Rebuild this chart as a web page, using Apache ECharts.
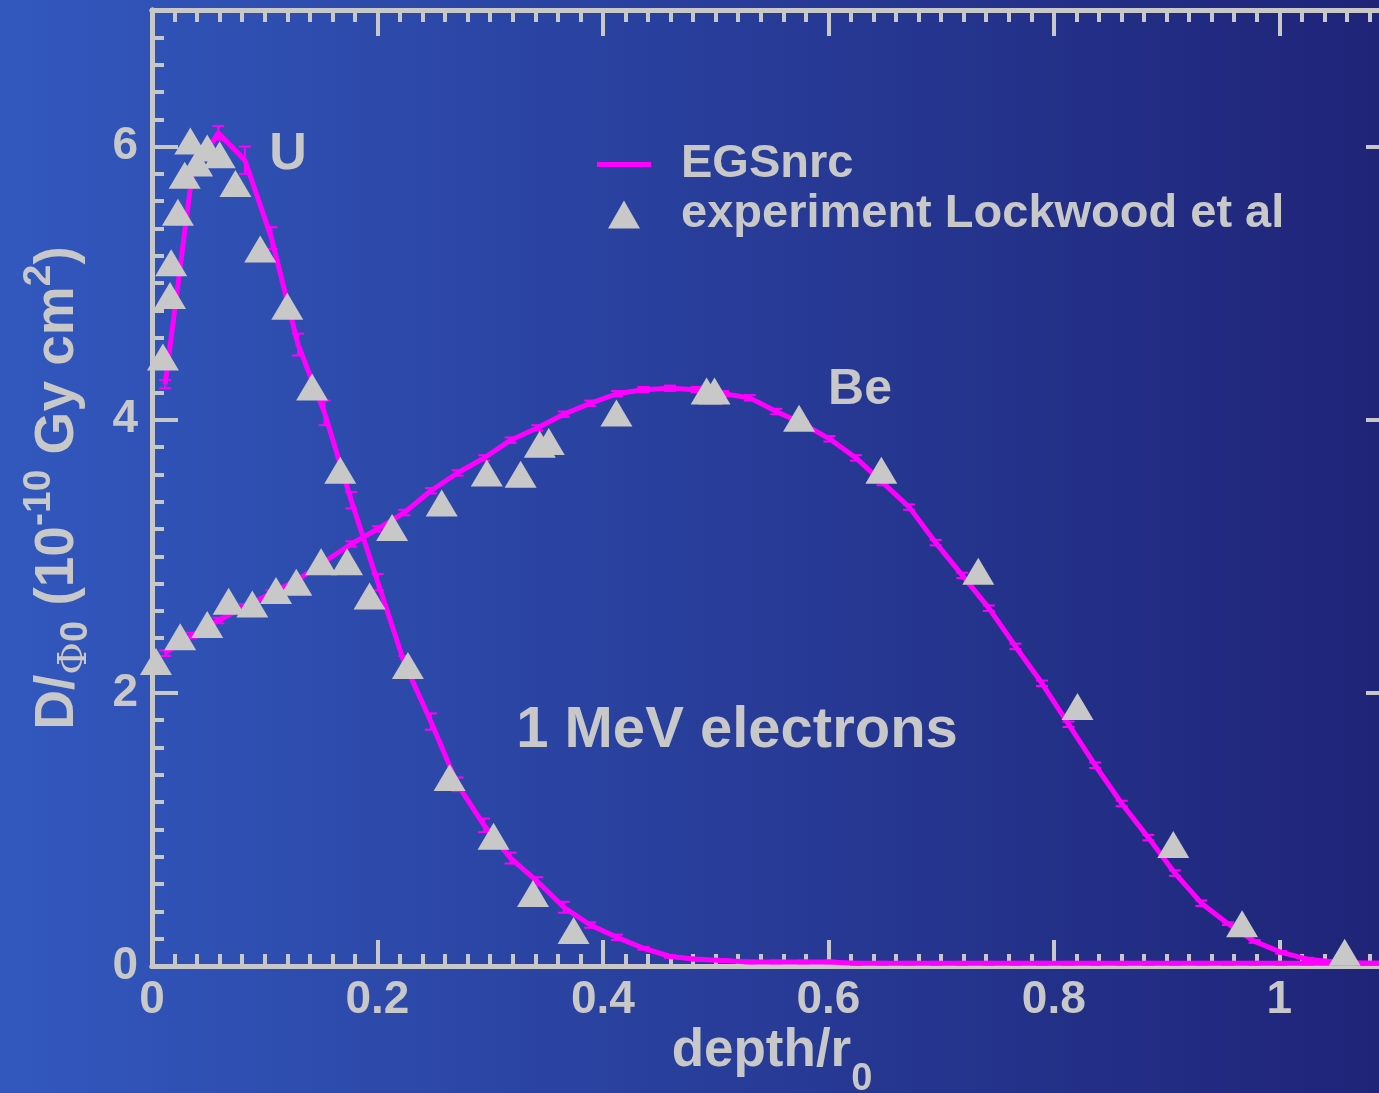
<!DOCTYPE html>
<html>
<head>
<meta charset="utf-8">
<title>Depth dose, 1 MeV electrons</title>
<script src="https://cdn.jsdelivr.net/npm/echarts@6/dist/echarts.min.js"></script>
<style>
  html, body { margin: 0; padding: 0; }
  #main { width: 1379px; height: 1093px; }
</style>
</head>
<body>
<div id="main"></div>
<script>
// EGSnrc depth bins (depth / r0)
const depth = [
    0.0117, 0.0353, 0.0588, 0.0824, 0.1060, 0.1296, 0.1531, 0.1767, 0.2003, 0.2238,
    0.2474, 0.2710, 0.2946, 0.3181, 0.3417, 0.3653, 0.3888, 0.4124, 0.4360, 0.4595,
    0.4831, 0.5067, 0.5303, 0.5538, 0.5774, 0.6010, 0.6245, 0.6481, 0.6717, 0.6952,
    0.7188, 0.7424, 0.7660, 0.7895, 0.8131, 0.8367, 0.8602, 0.8838, 0.9074, 0.9309,
    0.9545, 0.9781, 1.0017, 1.0252, 1.0488, 1.0724, 1.0959
];
// EGSnrc dose, uranium
const doseU = [
    4.26, 5.78, 6.10, 5.90, 5.33, 4.55, 4.05, 3.41, 2.81, 2.22,
    1.79, 1.33, 1.03, 0.79, 0.62, 0.43, 0.30, 0.21, 0.13, 0.07,
    0.05, 0.04, 0.03, 0.03, 0.03, 0.03, 0.02, 0.02, 0.02, 0.02,
    0.02, 0.02, 0.02, 0.02, 0.02, 0.02, 0.02, 0.02, 0.02, 0.02,
    0.02, 0.02, 0.02, 0.02, 0.02, 0.02, 0.02
];
const errU = [
    0.03, 0.05, 0.05, 0.10, 0.08, 0.08, 0.09, 0.06, 0.06, 0.05,
    0.06, 0.05, 0.05, 0.04, 0.03, 0.04, 0.02, 0.02, 0.01, 0.01,
    0.01, 0.01, 0.01, 0.01, 0.01, 0.01, 0.01, 0.01, 0.01, 0.01,
    0.01, 0.01, 0.01, 0.01, 0.01, 0.01, 0.01, 0.01, 0.01, 0.01,
    0.01, 0.01, 0.01, 0.01, 0.01, 0.01, 0.01
];
// EGSnrc dose, beryllium
const doseBe = [
    2.29, 2.42, 2.53, 2.63, 2.73, 2.83, 2.96, 3.09, 3.20, 3.32,
    3.48, 3.61, 3.72, 3.85, 3.94, 4.04, 4.12, 4.19, 4.22, 4.23,
    4.22, 4.19, 4.16, 4.06, 3.97, 3.86, 3.72, 3.54, 3.36, 3.10,
    2.86, 2.62, 2.34, 2.07, 1.77, 1.47, 1.19, 0.94, 0.68, 0.46,
    0.31, 0.18, 0.10, 0.05, 0.03, 0.02, 0.02
];
const errBe = [
    0.02, 0.02, 0.02, 0.02, 0.02, 0.02, 0.02, 0.02, 0.02, 0.02,
    0.02, 0.02, 0.02, 0.02, 0.02, 0.02, 0.02, 0.02, 0.02, 0.02,
    0.02, 0.02, 0.02, 0.02, 0.02, 0.02, 0.02, 0.02, 0.02, 0.02,
    0.02, 0.02, 0.02, 0.02, 0.02, 0.02, 0.02, 0.02, 0.02, 0.02,
    0.01, 0.01, 0.01, 0.01, 0.01, 0.01, 0.01
];

// experiment, Lockwood et al
const expUDepth = [0.0097, 0.016, 0.017, 0.023, 0.029, 0.034, 0.040, 0.049, 0.060, 0.074,
    0.096, 0.120, 0.142, 0.167, 0.193, 0.227, 0.264, 0.303, 0.338, 0.374];
const expUDose = [4.46, 4.91, 5.15, 5.52, 5.79, 6.04, 5.88, 5.99, 5.94, 5.73,
    5.25, 4.83, 4.24, 3.63, 2.71, 2.20, 1.38, 0.95, 0.53, 0.26];
const expBeDepth = [0.0035, 0.025, 0.049, 0.068, 0.089, 0.110, 0.128, 0.150, 0.173, 0.213,
    0.257, 0.297, 0.327, 0.344, 0.352, 0.412, 0.492, 0.499, 0.574, 0.647,
    0.733, 0.821, 0.906, 0.967, 1.058];
const expBeDose = [2.23, 2.41, 2.50, 2.67, 2.65, 2.75, 2.81, 2.96, 2.96, 3.21,
    3.39, 3.61, 3.60, 3.82, 3.84, 4.05, 4.21, 4.21, 4.01, 3.63,
    2.89, 1.90, 0.89, 0.31, 0.10];

const GREY = '#c8c8c8';
const MAGENTA = '#ff00ff';
const FONT = 'Liberation Sans';

const chart = echarts.init(document.getElementById('main'), null, { renderer: 'canvas' });

function pairs(xs, ys) {
    return xs.map(function (x, i) { return [x, ys[i]]; });
}

function errorBar(params, api) {
    const x = api.value(0);
    const y = api.value(1);
    const e = api.value(2);
    const hi = api.coord([x, y + e]);
    const lo = api.coord([x, y - e]);
    const st = { stroke: MAGENTA, lineWidth: 2 };
    return {
        type: 'group',
        children: [
            { type: 'line', shape: { x1: hi[0], y1: hi[1], x2: lo[0], y2: lo[1] }, style: st },
            { type: 'line', shape: { x1: hi[0] - 6, y1: hi[1], x2: hi[0] + 6, y2: hi[1] }, style: st },
            { type: 'line', shape: { x1: lo[0] - 6, y1: lo[1], x2: lo[0] + 6, y2: lo[1] }, style: st }
        ]
    };
}

// frame axes: every side gets a short-tick axis and a long-tick axis
function frameAxis(position, min, max, interval, tickLen, extra) {
    return Object.assign({
        type: 'value',
        position: position,
        min: min,
        max: max,
        interval: interval,
        axisLine: { show: true, onZero: false, lineStyle: { color: GREY, width: 5 } },
        axisTick: { show: true, inside: true, length: tickLen, lineStyle: { color: GREY, width: 4 } },
        axisLabel: { show: false },
        splitLine: { show: false }
    }, extra || {});
}

const labelStyle = {
    show: true,
    color: GREY,
    fontFamily: FONT,
    fontWeight: 'bold',
    fontSize: 46,
    showMaxLabel: false
};

var option = {
    backgroundColor: {
        type: 'linear', x: 0, y: 0, x2: 1, y2: 0,
        colorStops: [
            { offset: 0, color: '#3258be' },
            { offset: 1, color: '#1f2478' }
        ]
    },
    animation: false,
    textStyle: { fontFamily: FONT },
    grid: {
        left: 152,
        right: -13,
        top: 10,
        bottom: 127,
        containLabel: false,
        outerBoundsMode: 'none'
    },
    legend: {
        orient: 'vertical',
        left: 592,
        top: 136,
        itemWidth: 54,
        itemHeight: 28,
        itemGap: 3,
        selectedMode: false,
        symbolKeepAspect: true,
        data: [
            { name: 'EGSnrc', icon: 'path://M0,0 L54,0 L54,5 L0,5 Z', itemStyle: { color: MAGENTA, opacity: 1 } },
            { name: 'experiment Lockwood et al', icon: 'path://M16,0 L32,28 L0,28 Z', itemStyle: { color: GREY, opacity: 1 } }
        ],
        textStyle: {
            color: GREY,
            fontFamily: FONT,
            fontWeight: 'bold',
            fontSize: 47,
            padding: [0, 0, 0, 25]
        }
    },
    xAxis: [
        frameAxis('bottom', 0, 1.1, 0.2, 26, {
            axisLabel: Object.assign({}, labelStyle, { margin: 11 }),
            name: '{a|depth/r}{sub|0}',
            nameLocation: 'middle',
            nameGap: 37,
            nameMoveOverlap: false,
            nameTextStyle: {
                rich: {
                    a: { color: GREY, fontFamily: FONT, fontWeight: 'bold', fontSize: 53, lineHeight: 96 },
                    sub: { color: GREY, fontFamily: FONT, fontWeight: 'bold', fontSize: 38, lineHeight: 14, verticalAlign: 'bottom' }
                }
            }
        }),
        frameAxis('bottom', 0, 1.1, 0.02, 12),
        frameAxis('top', 0, 1.1, 0.2, 26),
        frameAxis('top', 0, 1.1, 0.02, 12)
    ],
    yAxis: [
        frameAxis('left', 0, 7, 2, 26, {
            axisLabel: Object.assign({}, labelStyle, { margin: 14 }),
            name: '{a|D/}{phi|Φ}{sub|0}{a| (10}{sup|-10}{a| Gy cm}{sup|2}{a|)}',
            nameLocation: 'middle',
            nameRotate: 90,
            nameGap: 56,
            nameMoveOverlap: false,
            nameTextStyle: {
                rich: {
                    a: { color: GREY, fontFamily: FONT, fontWeight: 'bold', fontSize: 55, lineHeight: 76 },
                    phi: { color: GREY, fontFamily: 'DejaVu Serif', fontSize: 40, lineHeight: 64, verticalAlign: 'bottom' },
                    sub: { color: GREY, fontFamily: FONT, fontWeight: 'bold', fontSize: 38, lineHeight: 12, verticalAlign: 'bottom' },
                    sup: { color: GREY, fontFamily: FONT, fontWeight: 'bold', fontSize: 39, lineHeight: 42, verticalAlign: 'top' }
                }
            }
        }),
        frameAxis('left', 0, 7, 0.2, 12),
        frameAxis('right', 0, 7, 2, 26),
        frameAxis('right', 0, 7, 0.2, 12)
    ],
    graphic: [
        {
            type: 'text', x: 288, y: 155, silent: true,
            style: { text: 'U', fill: GREY, font: 'bold 52px "Liberation Sans"', textAlign: 'center', textVerticalAlign: 'middle' }
        },
        {
            type: 'text', x: 860, y: 390, silent: true,
            style: { text: 'Be', fill: GREY, font: 'bold 50px "Liberation Sans"', textAlign: 'center', textVerticalAlign: 'middle' }
        },
        {
            type: 'text', x: 737, y: 731, silent: true,
            style: { text: '1 MeV electrons', fill: GREY, font: 'bold 58px "Liberation Sans"', textAlign: 'center', textVerticalAlign: 'middle' }
        }
    ],
    series: [
        {
            name: 'EGSnrc',
            type: 'line',
            data: pairs(depth, doseU),
            symbol: 'none',
            lineStyle: { color: MAGENTA, width: 5 },
            itemStyle: { color: MAGENTA },
            z: 2
        },
        {
            name: 'EGSnrc',
            type: 'line',
            data: pairs(depth, doseBe),
            symbol: 'none',
            lineStyle: { color: MAGENTA, width: 5 },
            itemStyle: { color: MAGENTA },
            z: 2
        },
        {
            name: 'errU',
            type: 'custom',
            data: depth.map(function (x, i) { return [x, doseU[i], errU[i]]; }),
            encode: { x: 0, y: 1 },
            renderItem: errorBar,
            z: 3
        },
        {
            name: 'errBe',
            type: 'custom',
            data: depth.map(function (x, i) { return [x, doseBe[i], errBe[i]]; }),
            encode: { x: 0, y: 1 },
            renderItem: errorBar,
            z: 3
        },
        {
            name: 'experiment Lockwood et al',
            type: 'scatter',
            data: pairs(expUDepth, expUDose),
            symbol: 'triangle',
            symbolSize: [32, 27],
            itemStyle: { color: GREY, opacity: 1 },
            z: 4
        },
        {
            name: 'experiment Lockwood et al',
            type: 'scatter',
            data: pairs(expBeDepth, expBeDose),
            symbol: 'triangle',
            symbolSize: [32, 27],
            itemStyle: { color: GREY, opacity: 1 },
            z: 4
        }
    ]
};

chart.setOption(option);
</script>
</body>
</html>
